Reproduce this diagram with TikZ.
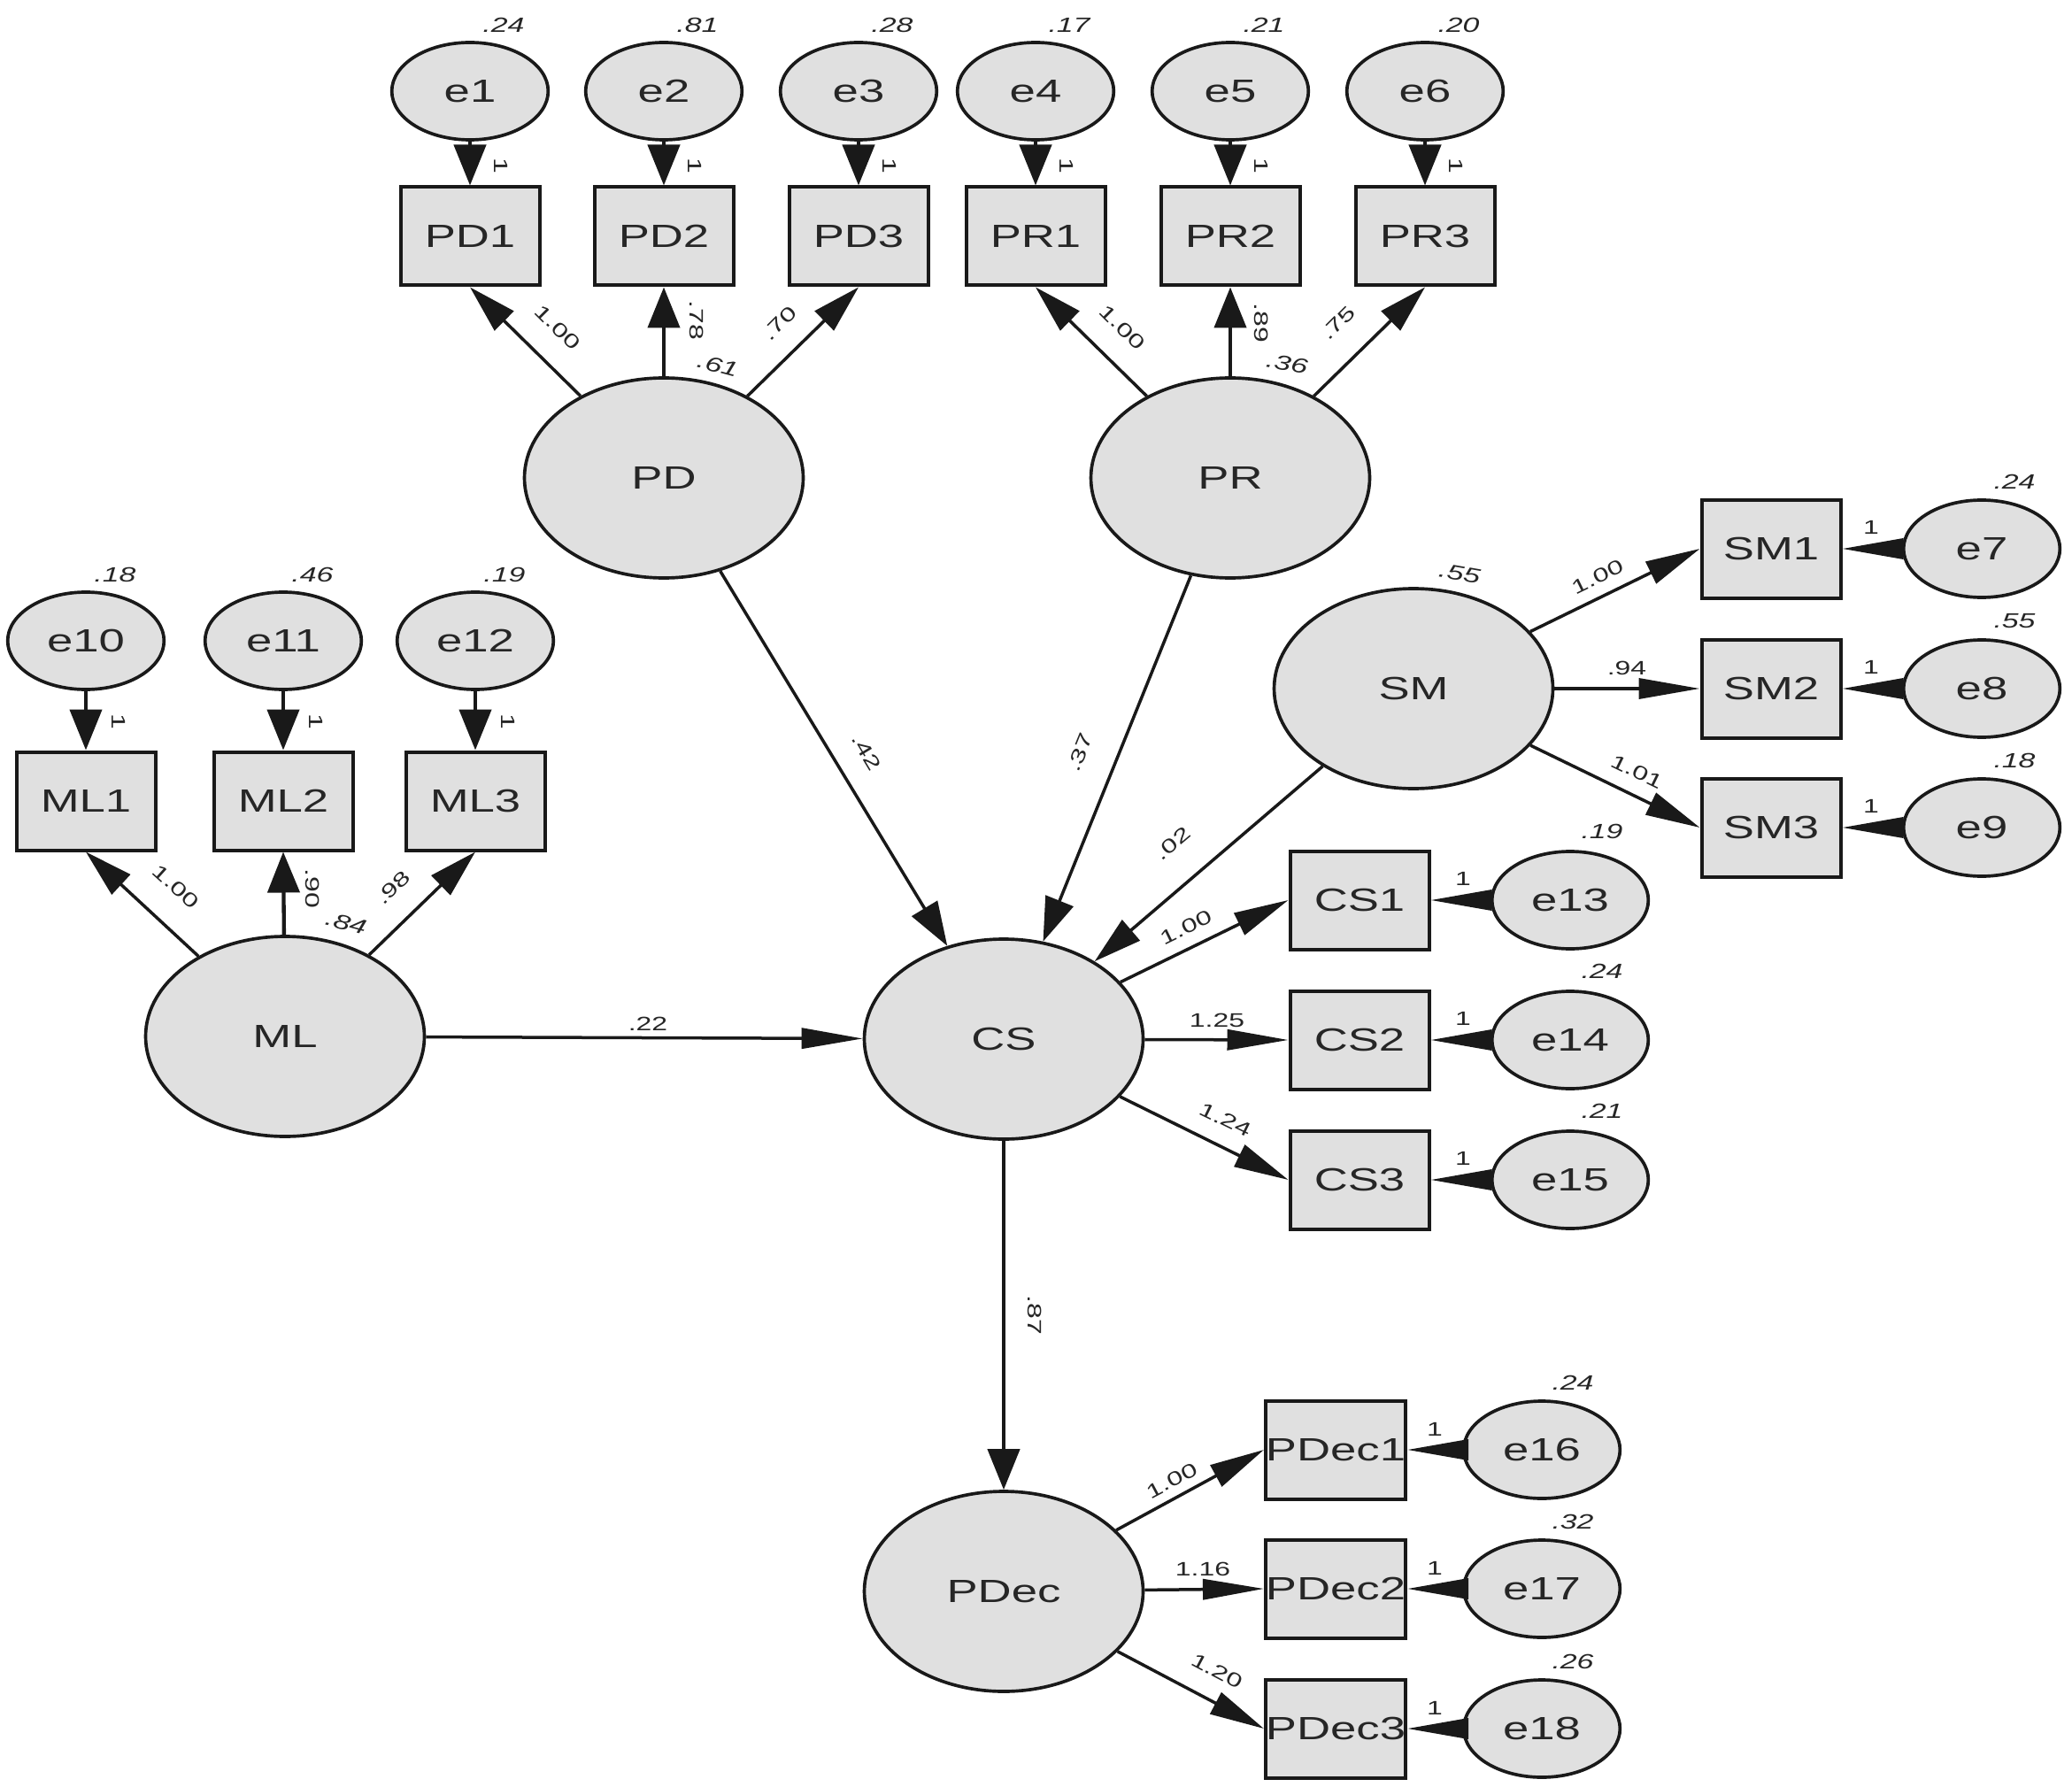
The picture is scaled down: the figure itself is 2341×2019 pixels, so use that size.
\documentclass[tikz,border=0pt]{standalone}
\usepackage{fontspec}
\setmainfont{Liberation Sans}[FakeStretch=1.45]
\usetikzlibrary{arrows.meta,shapes.geometric}
\newcommand\mainlab{\fontsize{10.9}{13}\selectfont}
\newcommand\smlab{\fontsize{6.6}{8}\selectfont}
\newcommand\varlab{\fontsize{7}{8}\selectfont\itshape}
\tikzset{
  lat/.style={ellipse, draw=black!90, line width=1.1pt, fill=black!12, minimum width=94.5pt, minimum height=67.8pt, inner sep=0pt, font=\mainlab, text=black!85},
  err/.style={ellipse, draw=black!90, line width=1.1pt, fill=black!12, minimum width=53pt, minimum height=33pt, inner sep=0pt, font=\mainlab, text=black!85},
  obs/.style={rectangle, draw=black!90, line width=1.2pt, fill=black!12, minimum width=47.1pt, minimum height=33.3pt, inner sep=0pt, font=\mainlab, text=black!85},
  lbl/.style={font=\smlab, inner sep=0pt, text=black!85},
  varl/.style={font=\varlab, inner sep=0pt, text=black!85},
  arr/.style 2 args={draw=black!90, line width=1.05pt, -{Triangle[length=#1,width=#2]}},
  aH/.style={arr={20.7pt}{6.9pt}},
  aV/.style={arr={13.8pt}{10.8pt}, line width=1.3pt},
  aD/.style={arr={16.3pt}{9.1pt}},
  aS/.style={arr={18.5pt}{8.1pt}},
  aT/.style={arr={14.9pt}{10pt}}
}
\begin{document}
\begin{tikzpicture}[x=0.3pt, y=-0.3pt]
\fill[white] (0,0) rectangle (2341,2019);
\useasboundingbox (0,0) rectangle (2341,2019);
% ---------- top row ----------
\foreach \n/\x/\b/\v in {1/531/PD1/.24, 2/750/PD2/.81, 3/970/PD3/.28, 4/1170/PR1/.17, 5/1390/PR2/.21, 6/1610/PR3/.20} {
  \node[err] (e\n) at (\x,103) {e\n};
  \node[obs] (\b) at (\x,267) {\b};
  \node[varl] (v\n) at (\x+38,28) {\v};
  \node[lbl, rotate=-90] (one\n) at (\x+35,187) {1};
  \draw[aV] (e\n) -- (\b);
}
\node[lat] (PD) at (750,540) {PD};
\node[lat] (PR) at (1390,540) {PR};
\draw[aD] (PD) -- (PD1.south);
\draw[aV] (PD) -- (PD2.south);
\draw[aD] (PD) -- (PD3.south);
\draw[aD] (PR) -- (PR1.south);
\draw[aV] (PR) -- (PR2.south);
\draw[aD] (PR) -- (PR3.south);
\node[lbl, rotate=-45] (lpd1) at (630,370) {1.00};
\node[lbl, rotate=-90] (lpd2) at (787,362) {.78};
\node[lbl, rotate=45] (lpd3) at (881,365) {.70};
\node[varl, rotate=-15] (vpd) at (811,413) {.61};
\node[lbl, rotate=-45] (lpr1) at (1268,370) {1.00};
\node[lbl, rotate=-90] (lpr2) at (1425,365) {.89};
\node[lbl, rotate=45] (lpr3) at (1512,365) {.75};
\node[varl, rotate=-10] (vpr) at (1454,411) {.36};
% ---------- ML block ----------
\foreach \n/\x/\b/\v in {10/97/ML1/.18, 11/320/ML2/.46, 12/537/ML3/.19} {
  \node[err] (e\n) at (\x,724) {e\n};
  \node[obs] (\b) at (\x,905) {\b};
  \node[varl] (v\n) at (\x+33,649) {\v};
  \node[lbl, rotate=-90] (one\n) at (\x+37,815) {1};
  \draw[aV] (e\n) -- (\b);
}
\node[lat] (ML) at (322,1171) {ML};
\draw[aD] (ML) -- (ML1.south);
\draw[aV] (ML) -- (ML2.south);
\draw[aD] (ML) -- (ML3.south);
\node[lbl, rotate=-42] (lml1) at (199,1002) {1.00};
\node[lbl, rotate=-90] (lml2) at (353,1004) {.90};
\node[varl, rotate=-15] (vml) at (391,1043) {.84};
\node[lbl, rotate=44] (lml3) at (444,1003) {.98};
% ---------- SM block ----------
\foreach \n/\y/\b/\v in {7/620/SM1/.24, 8/778/SM2/.55, 9/935/SM3/.18} {
  \node[obs] (\b) at (2001,\y) {\b};
  \node[err] (e\n) at (2239,\y) {e\n};
  \node[varl] (v\n) at (2276,\y-76) {\v};
  \node[lbl] (one\n) at (2114,\y-24) {1};
  \draw[aH] (e\n) -- (\b);
}
\node[lat] (SM) at (1597,778) {SM};
\node[varl, rotate=-10] (vsm) at (1649,648) {.55};
\draw[aS] (SM) -- (SM1.west);
\draw[aH] (SM) -- (SM2.west);
\draw[aS] (SM) -- (SM3.west);
\node[lbl, rotate=26] (lsm1) at (1805,652) {1.00};
\node[lbl] (lsm2) at (1838,755) {.94};
\node[lbl, rotate=-26] (lsm3) at (1850,872) {1.01};
% ---------- CS block ----------
\node[lat] (CS) at (1134,1174) {CS};
\foreach \n/\y/\b/\v in {13/1017/CS1/.19, 14/1175/CS2/.24, 15/1333/CS3/.21} {
  \node[obs] (\b) at (1536,\y) {\b};
  \node[err] (e\n) at (1774,\y) {e\n};
  \node[varl] (v\n) at (1810,\y-78) {\v};
  \node[lbl] (one\n) at (1653,\y-24) {1};
  \draw[aH] (e\n) -- (\b);
}
\draw[aS] (CS) -- (CS1.west);
\draw[aH] (CS) -- (CS2.west);
\draw[aS] (CS) -- (CS3.west);
\node[lbl, rotate=26] (lcs1) at (1340,1048) {1.00};
\node[lbl] (lcs2) at (1375,1153) {1.25};
\node[lbl, rotate=-26] (lcs3) at (1385,1265) {1.24};
% ---------- PDec block ----------
\node[lat] (PDec) at (1134,1798) {PDec};
\foreach \n/\y/\b/\v in {16/1638/PDec1/.24, 17/1795/PDec2/.32, 18/1953/PDec3/.26} {
  \node[obs] (\b) at (1509,\y) {\b};
  \node[err] (e\n) at (1742,\y) {e\n};
  \node[varl] (v\n) at (1777,\y-76) {\v};
  \node[lbl] (one\n) at (1621,\y-23) {1};
  \draw[aH] (e\n) -- (\b);
}
\draw[aS] (PDec) -- (PDec1.west);
\draw[aH] (PDec) -- (PDec2.west);
\draw[aS] (PDec) -- (PDec3.west);
\node[lbl, rotate=28] (lpdec1) at (1324,1673) {1.00};
\node[lbl] (lpdec2) at (1359,1773) {1.16};
\node[lbl, rotate=-28] (lpdec3) at (1375,1888) {1.20};
% ---------- structural paths ----------
\draw[aT] (PD) -- (CS);
\draw[aT] (PR) -- (CS);
\draw[aD] (SM) -- (CS);
\draw[aH] (ML) -- (CS);
\draw[aV] (CS) -- (PDec);
\node[lbl, rotate=-59] (lpdcs) at (979,850) {.42};
\node[lbl, rotate=68] (lprcs) at (1220,850) {.37};
\node[lbl, rotate=40] (lsmcs) at (1325,953) {.02};
\node[lbl] (lmlcs) at (732,1157) {.22};
\node[lbl, rotate=-90] (lcspd) at (1169,1486) {.87};
\end{tikzpicture}
\end{document}
